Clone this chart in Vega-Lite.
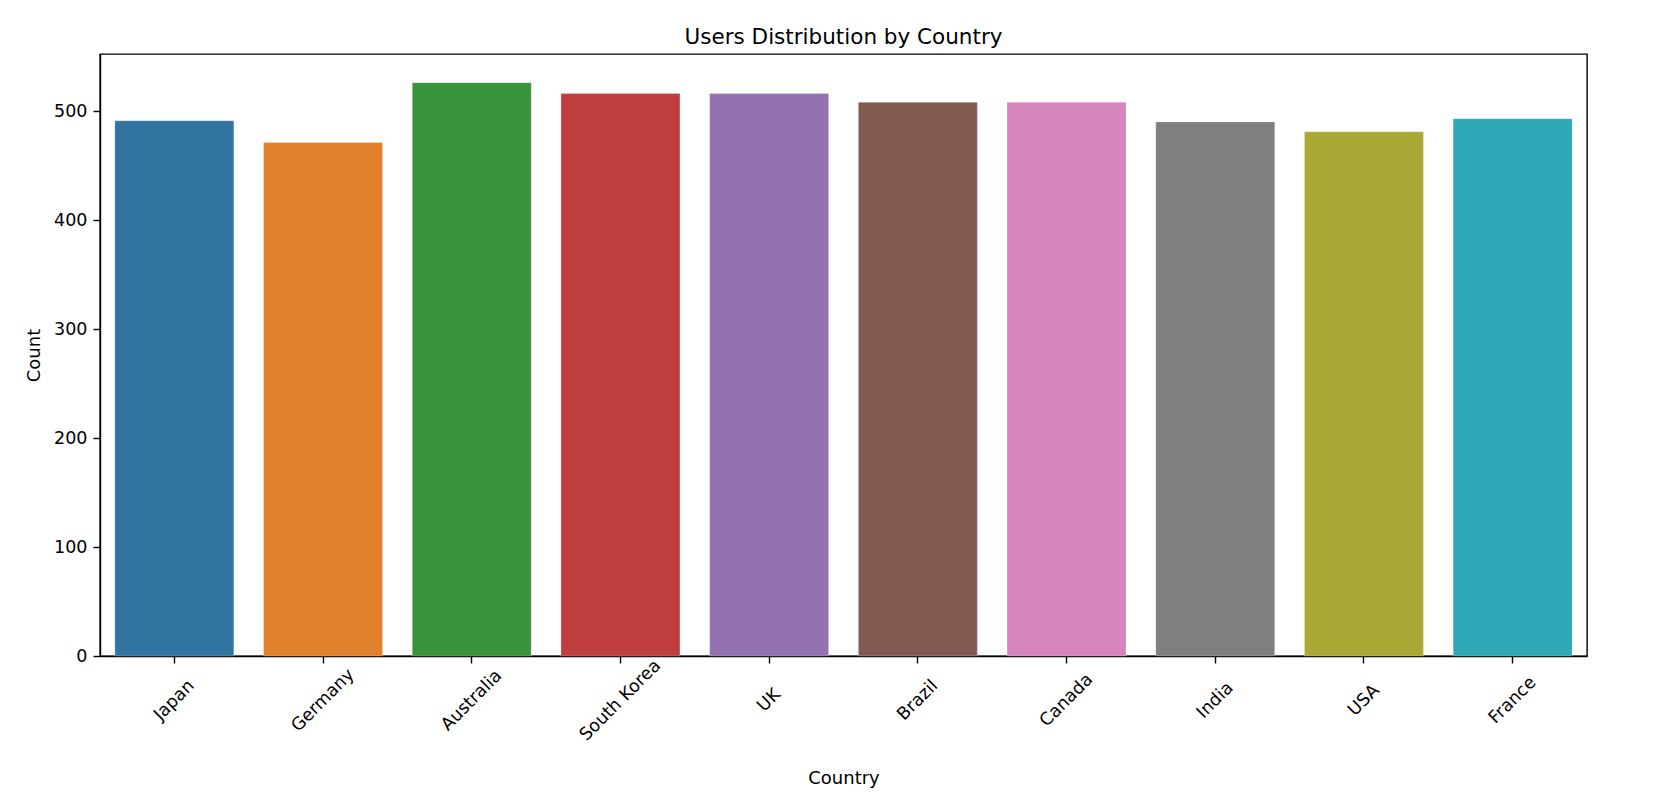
{
  "$schema": "https://vega.github.io/schema/vega-lite/v6.json",
  "width": 1487,
  "height": 602,
  "autosize": {"type": "none"},
  "padding": {"left": 100, "top": 54, "right": 75, "bottom": 140},
  "background": "white",
  "title": {
    "text": "Users Distribution by Country",
    "font": "DejaVu Sans",
    "fontSize": 21.5,
    "fontWeight": "normal",
    "color": "#000000",
    "offset": 6,
    "anchor": "middle"
  },
  "config": {
    "view": {"stroke": "#000000", "strokeWidth": 1.4},
    "axis": {
      "labelFont": "DejaVu Sans",
      "titleFont": "DejaVu Sans",
      "labelColor": "#000000",
      "titleColor": "#000000",
      "labelFontSize": 17.5,
      "titleFontSize": 18,
      "titleFontWeight": "normal",
      "domainColor": "#000000",
      "tickColor": "#000000",
      "tickSize": 7,
      "tickWidth": 1.4,
      "domainWidth": 1.4,
      "grid": false
    }
  },
  "data": {
    "values": [
      {"Country": "Japan", "Count": 491},
      {"Country": "Germany", "Count": 471},
      {"Country": "Australia", "Count": 526},
      {"Country": "South Korea", "Count": 516},
      {"Country": "UK", "Count": 516},
      {"Country": "Brazil", "Count": 508},
      {"Country": "Canada", "Count": 508},
      {"Country": "India", "Count": 490},
      {"Country": "USA", "Count": 481},
      {"Country": "France", "Count": 493}
    ]
  },
  "mark": {"type": "bar", "stroke": "#ffffff", "strokeWidth": 0.4, "strokeOpacity": 0.6},
  "encoding": {
    "x": {
      "field": "Country",
      "type": "nominal",
      "sort": null,
      "scale": {"paddingInner": 0.2, "paddingOuter": 0.1},
      "axis": {
        "title": "Country",
        "labelAngle": -45,
        "labelAlign": "center",
        "labelBaseline": "middle",
        "labelPadding": 37,
        "titlePadding": 26
      }
    },
    "y": {
      "field": "Count",
      "type": "quantitative",
      "scale": {"domain": [0, 552.3], "nice": false, "zero": true},
      "axis": {
        "title": "Count",
        "values": [0, 100, 200, 300, 400, 500],
        "labelPadding": 6,
        "titlePadding": 10
      }
    },
    "color": {
      "field": "Country",
      "type": "nominal",
      "sort": null,
      "legend": null,
      "scale": {
        "domain": ["Japan", "Germany", "Australia", "South Korea", "UK", "Brazil", "Canada", "India", "USA", "France"],
        "range": ["#3274a1", "#e1812c", "#3a923a", "#c03d3e", "#9372b2", "#845b53", "#d684bd", "#7f7f7f", "#a9aa35", "#2ea8b6"]
      }
    }
  }
}
